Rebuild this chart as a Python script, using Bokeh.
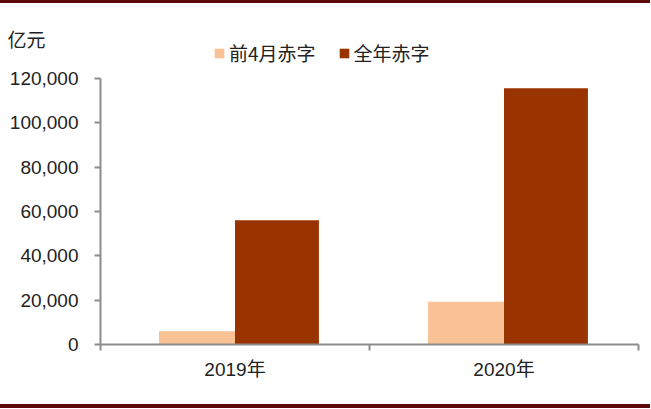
from bokeh.plotting import figure
from bokeh.models import (ColumnDataSource, FixedTicker, NumeralTickFormatter,
                          Legend, LegendItem)
from bokeh.transform import dodge
from bokeh.embed import file_html
from bokeh.resources import INLINE

categories = ["2019年", "2020年"]
first4 = [6000, 19300]
fullyear = [56000, 115600]
series_names = ["前4月赤字", "全年赤字"]
y_ticks = [0, 20000, 40000, 60000, 80000, 100000, 120000]
unit_text = "亿元"

LIGHT = "#F8C294"
DARK = "#993300"
BORDER = "#5E0A0A"
FONT = "Liberation Sans, Arial, Noto Sans CJK SC"
CJK = "Noto Sans CJK SC, Liberation Sans"

# layout (pixels)
TOP, FRAME_H, AXIS_H, BOTTOM = 30, 311, 266, 60
y_max = y_ticks[-1] * FRAME_H / AXIS_H

xpos = [i + 0.5 for i in range(len(categories))]
src = ColumnDataSource(dict(x=xpos, a=first4, b=fullyear, cat=categories))

p = figure(width=650, height=TOP + FRAME_H + BOTTOM, frame_width=538, frame_height=FRAME_H,
           x_range=(0, len(categories)), y_range=(0, y_max),
           output_backend="svg", toolbar_location=None,
           min_border_left=100, min_border_right=12,
           min_border_top=TOP, min_border_bottom=BOTTOM,
           title=unit_text)
p.styles = {"border-top": f"3px solid {BORDER}", "border-bottom": f"4px solid {BORDER}"}
p.outline_line_color = None
p.xgrid.visible = False
p.ygrid.visible = False
p.background_fill_color = "white"
p.border_fill_color = "white"

p.title.align = "left"
p.title.offset = -93
p.title.standoff = -37
p.title.text_font = CJK
p.title.text_font_size = "19px"
p.title.text_font_style = "normal"
p.title.text_color = "#222222"

r1 = p.vbar(x=dodge("x", -0.141, range=p.x_range), top="a", width=0.283,
            source=src, color=LIGHT, line_color=None)
r2 = p.vbar(x=dodge("x", 0.156, range=p.x_range), top="b", width=0.312,
            source=src, color=DARK, line_color=None)

# y axis
ya = p.yaxis[0]
ya.ticker = FixedTicker(ticks=y_ticks, minor_ticks=[])
ya.bounds = (y_ticks[0], y_ticks[-1])
ya.formatter = NumeralTickFormatter(format="0,0")
ya.axis_line_color = "#8C8C8C"
ya.axis_line_width = 2
ya.major_tick_line_color = "#8C8C8C"
ya.major_tick_line_width = 2
ya.major_tick_out = 6
ya.major_tick_in = 0
ya.minor_tick_line_color = None
ya.major_label_text_font = FONT
ya.major_label_text_font_size = "19px"
ya.major_label_text_color = "#222222"
ya.major_label_standoff = 16

# x axis
xa = p.xaxis[0]
xa.ticker = FixedTicker(ticks=xpos, minor_ticks=list(range(len(categories) + 1)))
xa.major_label_overrides = {x: c for x, c in zip(xpos, categories)}
xa.axis_line_color = "#8C8C8C"
xa.axis_line_width = 2
xa.major_tick_line_color = None
xa.major_tick_out = 0
xa.major_tick_in = 0
xa.minor_tick_line_color = "#8C8C8C"
xa.minor_tick_line_width = 2
xa.minor_tick_out = 6
xa.minor_tick_in = 0
xa.major_label_text_font = FONT
xa.major_label_text_font_size = "19px"
xa.major_label_text_color = "#222222"
xa.major_label_standoff = 8

legend = Legend(items=[LegendItem(label=series_names[0], renderers=[r1]),
                       LegendItem(label=series_names[1], renderers=[r2])],
                orientation="horizontal", location=(113, 278),
                glyph_width=12, glyph_height=12, label_standoff=4, spacing=22,
                padding=0, margin=0, border_line_color=None,
                background_fill_alpha=0,
                label_text_font=CJK, label_text_font_size="19px",
                label_text_color="#222222")
p.add_layout(legend, "center")

open("out.html", "w").write(file_html(p, INLINE))
